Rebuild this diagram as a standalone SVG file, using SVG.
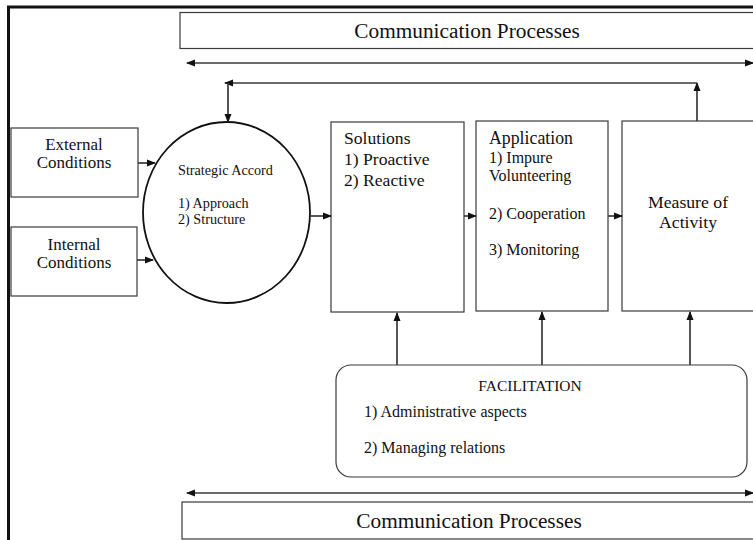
<svg xmlns="http://www.w3.org/2000/svg" width="753" height="540" viewBox="0 0 753 540">
<style>
.t{font-family:'Liberation Serif', 'Times New Roman', Times, serif;fill:#111}
.box{fill:#fff;stroke:#3a3a3a;stroke-width:1.2}
.ln{stroke:#3a3a3a;stroke-width:1.7;fill:none}
.c{text-anchor:middle}
</style>
<defs>
<marker id="ah" markerWidth="9" markerHeight="8" refX="8" refY="4" orient="auto-start-reverse" markerUnits="userSpaceOnUse">
<path d="M0,0.5 L9,4 L0,7.5 z" fill="#111"/>
</marker>
</defs>
<rect width="753" height="540" fill="#fff"/>
<path d="M8.5,540 L8.5,7 L753,7" fill="none" stroke="#111" stroke-width="3"/>
<g class="t">
<g id="comm-top">
<rect class="box" x="180" y="12.5" width="580" height="36"/>
<text class="c" x="467" y="38" font-size="21.3">Communication Processes</text>
</g>
<g id="external">
<rect class="box" x="11" y="128" width="127" height="69"/>
<text class="c" x="74" y="150" font-size="17">External</text>
<text class="c" x="74" y="168" font-size="17">Conditions</text>
</g>
<g id="internal">
<rect class="box" x="11" y="227" width="126" height="69"/>
<text class="c" x="74" y="250" font-size="17">Internal</text>
<text class="c" x="74" y="268" font-size="17">Conditions</text>
</g>
<g id="strategic">
<ellipse cx="226.5" cy="212.5" rx="83.5" ry="90.5" fill="#fff" stroke="#111" stroke-width="1.8"/>
<text x="178" y="175" font-size="14.2">Strategic Accord</text>
<text x="178" y="208" font-size="14.2">1) Approach</text>
<text x="178" y="224" font-size="14.2">2) Structure</text>
</g>
<g id="solutions">
<rect class="box" x="331" y="122" width="133" height="190"/>
<text x="344" y="144" font-size="17.6">Solutions</text>
<text x="344" y="165" font-size="17.6">1) Proactive</text>
<text x="344" y="186" font-size="17.6">2) Reactive</text>
</g>
<g id="application">
<rect class="box" x="476" y="121" width="132" height="190"/>
<text x="489" y="144" font-size="17.8">Application</text>
<text x="489" y="163" font-size="16">1) Impure</text>
<text x="489" y="181" font-size="16">Volunteering</text>
<text x="489" y="219" font-size="16">2) Cooperation</text>
<text x="489" y="255" font-size="16">3) Monitoring</text>
</g>
<g id="measure">
<rect class="box" x="622" y="121" width="140" height="190"/>
<text class="c" x="688" y="208" font-size="17.7">Measure of</text>
<text class="c" x="688" y="228" font-size="17.7">Activity</text>
</g>
<g id="facilitation">
<rect class="box" x="336" y="365" width="411" height="112" rx="15"/>
<text class="c" x="530" y="391" font-size="15.5">FACILITATION</text>
<text x="364" y="417" font-size="16">1) Administrative aspects</text>
<text x="364" y="453" font-size="16">2) Managing relations</text>
</g>
<g id="comm-bottom">
<rect class="box" x="182" y="502" width="580" height="37" stroke-width="1.6"/>
<text class="c" x="469" y="528" font-size="21.3">Communication Processes</text>
</g>
</g>
<g id="connectors">
<line class="ln" x1="187" y1="63" x2="753" y2="63" marker-start="url(#ah)" marker-end="url(#ah)"/>
<line class="ln" x1="697" y1="121" x2="697" y2="83" marker-end="url(#ah)"/>
<line class="ln" x1="697" y1="83" x2="225" y2="83" marker-end="url(#ah)"/>
<line class="ln" x1="228" y1="83" x2="228" y2="122" marker-end="url(#ah)"/>
<line class="ln" x1="138" y1="163" x2="155" y2="163" marker-end="url(#ah)"/>
<line class="ln" x1="137" y1="260" x2="153" y2="260" marker-end="url(#ah)"/>
<line class="ln" x1="310" y1="216" x2="331" y2="216" marker-end="url(#ah)"/>
<line class="ln" x1="464" y1="216" x2="476" y2="216" marker-end="url(#ah)"/>
<line class="ln" x1="608" y1="216" x2="622" y2="216" marker-end="url(#ah)"/>
<line class="ln" x1="397" y1="365" x2="397" y2="313" marker-end="url(#ah)"/>
<line class="ln" x1="542" y1="365" x2="542" y2="312" marker-end="url(#ah)"/>
<line class="ln" x1="690" y1="365" x2="690" y2="312" marker-end="url(#ah)"/>
<line class="ln" x1="187" y1="493" x2="753" y2="493" marker-start="url(#ah)" marker-end="url(#ah)"/>
</g>
</svg>
